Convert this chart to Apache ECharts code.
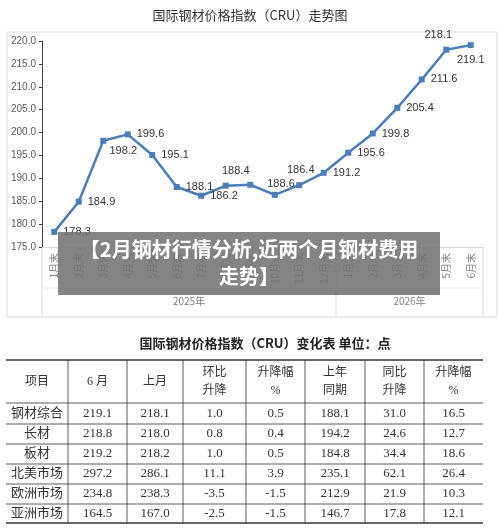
<!DOCTYPE html>
<html><head><meta charset="utf-8">
<script src="https://cdn.jsdelivr.net/npm/echarts@6/dist/echarts.min.js"></script>
<style>html,body{margin:0;padding:0;background:#fff}#c{width:500px;height:528px}</style>
</head><body><div id="c"></div>
<script>
const months = ['1月末','2月末','3月末','4月末','5月末','6月末','7月末','8月末','9月末','10月末','11月末','12月末','1月末','2月末','3月末','4月末','5月末','6月末'];
const years = ['2025年','2026年'];
const yearSpans = [12,6];
const values = [178.3,184.9,198.2,199.6,195.1,188.1,186.2,188.4,188.6,186.4,188.5,191.2,195.6,199.8,205.4,211.6,218.1,219.1];
const hiddenLabels = [10];
const labelPos = ['right','right','bottom','right','right','right','right','top','right','top','right','right','right','right','right','right','top','bottom'];
const labelOff = {2:[20,-4],7:[10,0],8:[8,-1],9:[26,-10],16:[-8,0]};
const tableHeader = ['项目','6 月','上月','环比\n升降','升降幅\n%','上年\n同期','同比\n升降','升降幅\n%'];
const tableRows = [
 ['钢材综合','219.1','218.1','1.0','0.5','188.1','31.0','16.5'],
 ['长材','218.8','218.0','0.8','0.4','194.2','24.6','12.7'],
 ['板材','219.2','218.2','1.0','0.5','184.8','34.4','18.6'],
 ['北美市场','297.2','286.1','11.1','3.9','235.1','62.1','26.4'],
 ['欧洲市场','234.8','238.3','-3.5','-1.5','212.9','21.9','10.3'],
 ['亚洲市场','164.5','167.0','-2.5','-1.5','146.7','17.8','12.1']
];
const chart = echarts.init(document.getElementById('c'));
const L=42, R=483, T=41, B=247, step=(R-L)/months.length;
const g=[];
g.push({type:'rect',shape:{x:7,y:32,width:490,height:285},style:{fill:'none',stroke:'#d9d9d9',lineWidth:1},z:-1});
let acc=0; const divs=[0];
yearSpans.forEach((s,i)=>{const x0=L+acc*step; acc+=s; const x1=L+acc*step; divs.push(acc);
 g.push({type:'text',style:{text:years[i],x:(x0+x1)/2,y:301,align:'center',verticalAlign:'middle',fill:'#7f7f7f',font:'10px "Noto Sans CJK SC"'}});});
divs.forEach(d=>g.push({type:'line',shape:{x1:L+d*step,y1:B,x2:L+d*step,y2:317},style:{stroke:'#d9d9d9',lineWidth:1}}));
g.push({type:'line',shape:{x1:L,y1:288,x2:R,y2:288},style:{stroke:'#e6e6e6',lineWidth:1}});
g.push({type:'rect',shape:{x:58,y:232,width:382,height:63},style:{fill:'rgba(115,115,115,0.88)'},z:100});
g.push({type:'text',style:{text:'【2月钢材行情分析,近两个月钢材费用\n走势】',x:249,y:263,align:'center',verticalAlign:'middle',fill:'#fff',font:'bold 20px "Noto Sans CJK SC"',lineHeight:27},z:101});
g.push({type:'text',style:{text:'国际钢材价格指数（CRU）变化表 单位：点',x:265,y:343,align:'center',verticalAlign:'middle',fill:'#222',font:'bold 13px "Noto Sans CJK SC"'}});
const cx=[6,68,127,183,246,305,365,424,483];
const ry=[360,403,424,444,464,484,504,523];
ry.forEach((y,i)=>g.push({type:'line',shape:{x1:cx[0],y1:y,x2:cx[8],y2:y},style:{stroke:'#333',lineWidth:(i==0||i==ry.length-1)?1.3:0.8}}));
cx.slice(1,8).forEach(x=>g.push({type:'line',shape:{x1:x,y1:ry[0],x2:x,y2:ry[7]},style:{stroke:'#333',lineWidth:0.8}}));
const allRows=[tableHeader].concat(tableRows);
allRows.forEach((row,r)=>row.forEach((t,c)=>{
 g.push({type:'text',style:{text:t,x:(cx[c]+cx[c+1])/2,y:(ry[r]+ry[r+1])/2,align:'center',verticalAlign:'middle',fill:'#333',lineHeight:18,
  font:(r==0?'12px':'13px')+' "Liberation Serif","Noto Sans CJK SC"'}});
}));
chart.setOption({
 animation:false,
 title:{text:'国际钢材价格指数（CRU）走势图',left:'center',top:4,textStyle:{fontSize:13,fontWeight:'normal',color:'#333',fontFamily:'Noto Sans CJK SC'}},
 grid:{left:L,right:500-R,top:T,bottom:528-B},
 xAxis:{type:'category',data:months,axisLine:{lineStyle:{color:'#d9d9d9'}},axisTick:{show:false},
  axisLabel:{rotate:90,color:'#7f7f7f',fontSize:10,interval:0,margin:6,fontFamily:'Noto Sans CJK SC'}},
 yAxis:{type:'value',min:175,max:220,interval:5,splitLine:{show:false},
  axisLine:{show:true,lineStyle:{color:'#404040'}},axisTick:{show:true,length:3,lineStyle:{color:'#404040'}},
  axisLabel:{formatter:v=>v.toFixed(1),color:'#595959',fontSize:10,margin:6}},
 series:[{type:'line',data:values.map((v,i)=>({value:v,label:{show:!hiddenLabels.includes(i),position:labelPos[i],offset:labelOff[i]||[0,0]}})),
  symbol:'rect',symbolSize:6,itemStyle:{color:'#4a7ebb'},lineStyle:{color:'#4a7ebb',width:2.5},
  label:{color:'#333',fontSize:11,distance:6}}],
 graphic:g
});
</script></body></html>
